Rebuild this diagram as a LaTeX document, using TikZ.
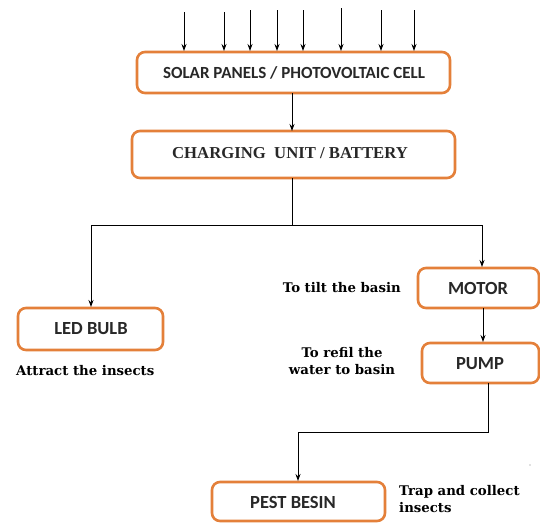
\documentclass[tikz,border=0pt]{standalone}
\usepackage{fontspec}
\setmainfont{Liberation Serif}
\newfontfamily\boxfont{Carlito}
\newfontfamily\labfont{DejaVu Serif}
\usetikzlibrary{arrows.meta}
\definecolor{boxorange}{RGB}{228,128,58}
\definecolor{txtgray}{RGB}{40,40,40}
\tikzset{
  obox/.style={draw=boxorange, line width=2.6pt, rounded corners=8pt, fill=white},
  btext/.style={font=\boxfont\bfseries\fontsize{18.5}{20}\selectfont, text=txtgray},
  side/.style={font=\labfont\bfseries\fontsize{13.3}{17}\selectfont, align=center, inner sep=0pt},
  conn/.style={line width=0.9pt, -{Stealth[length=7pt,width=5pt]}},
  plain/.style={line width=0.9pt}
}
\begin{document}
\begin{tikzpicture}[x=1pt,y=-1pt]
\useasboundingbox[fill=white] (0,0) rectangle (540,523);
% boxes
\draw[obox] (137,52) rectangle (450,93);
\node[btext, font=\boxfont\bfseries\fontsize{17}{19}\selectfont] (solar) at (294,72.5) {SOLAR PANELS / PHOTOVOLTAIC CELL};
\coordinate (solarB) at (292,93);
\draw[obox] (132,131) rectangle (455,178);
\node[font=\bfseries\fontsize{16.7}{18}\selectfont, text=txtgray] (charge) at (290,153) {CHARGING\ \ UNIT / BATTERY};
\coordinate (chargeT) at (292,131);
\coordinate (chargeB) at (292,178);
\draw[obox] (18,308) rectangle (163,350);
\node[btext] (led) at (91,329) {LED BULB};
\coordinate (ledT) at (91,307);
\draw[obox] (418,268) rectangle (539,308);
\node[btext] (motor) at (478,288) {MOTOR};
\coordinate (motorT) at (482,267);
\coordinate (motorB) at (483,308);
\draw[obox] (422,343) rectangle (539,383);
\node[btext] (pump) at (480,364) {PUMP};
\coordinate (pumpT) at (483,342);
\coordinate (pumpB) at (488,383);
\draw[obox] (212,482) rectangle (385,521);
\node[btext] (pest) at (293,502) {PEST BESIN};
\coordinate (pestT) at (298,481);
% sun arrows
\foreach \x/\y in {184/12,224/12,250/10,277/10,303/10,341/8,381/10,414/10}{
  \coordinate (s\x) at (\x,\y);
  \coordinate (e\x) at (\x,51);
  \draw[conn] (s\x) -- (e\x);
}
% connectors
\draw[conn] (solarB) -- (chargeT);
\coordinate (split) at (292,225);
\coordinate (splitL) at (91,225);
\coordinate (splitR) at (482,225);
\draw[plain] (chargeB) -- (split);
\draw[conn] (split) -- (splitL) -- (ledT);
\draw[conn] (split) -- (splitR) -- (motorT);
\draw[conn] (motorB) -- (pumpT);
\coordinate (pb1) at (488,432);
\coordinate (pb2) at (298,432);
\draw[conn] (pumpB) -- (pb1) -- (pb2) -- (pestT);
% side labels
\node[side, anchor=west] (l1) at (16,371) {Attract the insects};
\node[side, anchor=east] (l2) at (401,288) {To tilt the basin};
\node[side] (l3) at (342,361) {To refil the\\water to basin};
\node[side, align=left, anchor=west] (l4) at (399,499) {Trap and collect\\insects};
\fill[gray] (530,465) circle (0.7pt);
\end{tikzpicture}
\end{document}
